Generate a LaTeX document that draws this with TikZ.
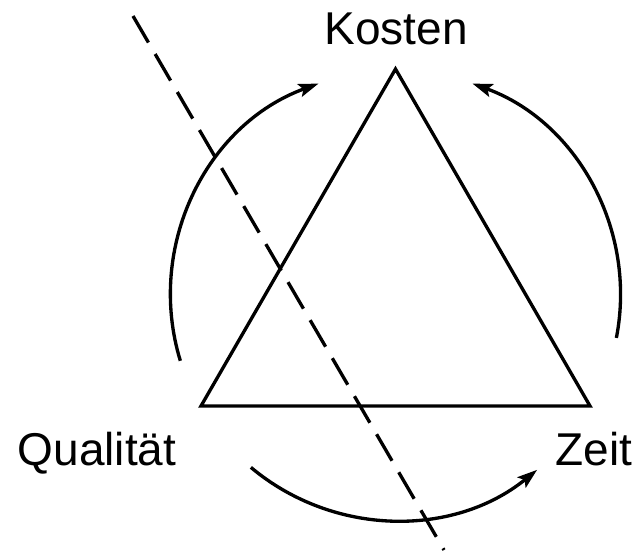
\documentclass[tikz,border=0pt]{standalone}
\usepackage{fontspec}
\setmainfont{Liberation Sans}
\usetikzlibrary{arrows.meta}
\begin{document}
\begin{tikzpicture}[x=0.75pt,y=0.75pt,
  line/.style={line width=2.5pt},
  cycarrow/.style={line width=2.5pt,-{Stealth[length=15pt,width=10pt,inset=3pt]}},
  cutline/.style={line width=2.5pt,dash pattern=on 23pt off 10pt},
  lab/.style={anchor=base,inner sep=0pt,font=\fontsize{34.5}{40}\selectfont}]
\useasboundingbox (0,0) rectangle (638,551);
\coordinate (C) at (395.5,256);
\coordinate (K) at (395.5,482);
\coordinate (Q) at (201,145);
\coordinate (Z) at (590,145);
\draw[line,line join=miter] (K) -- (Z) -- (Q) -- cycle;
\node[lab] (kosten) at (396,506) {Kosten};
\node[lab] (qual) at (97,86) {Qualität};
\node[lab] (zeit) at (594,86) {Zeit};
\draw[cycarrow] ([shift={(197:225)}]C) arc[start angle=197,end angle=110,radius=225];
\draw[cycarrow] ([shift={(-11:225)}]C) arc[start angle=-11,end angle=70,radius=225];
\draw[cycarrow] ([shift={(230:225)}]C) arc[start angle=230,end angle=309,radius=225];
\coordinate (d1) at (133,535);
\coordinate (d2) at (444,1);
\draw[cutline] (d1) -- (d2);
\end{tikzpicture}
\end{document}
